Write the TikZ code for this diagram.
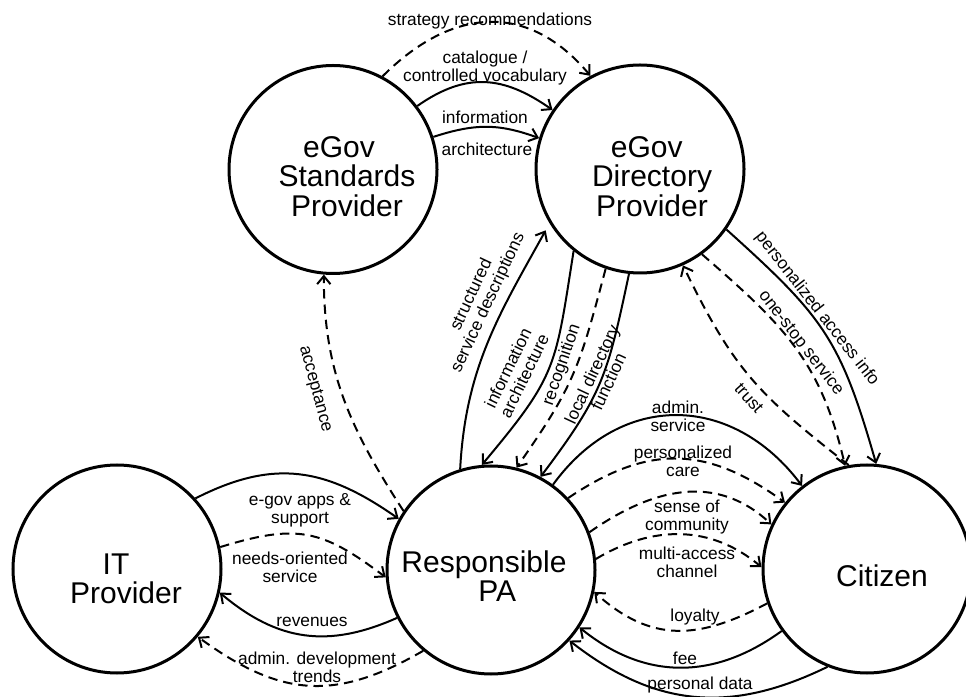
\documentclass[tikz,border=0pt]{standalone}
\usepackage{fontspec}
\setmainfont{Liberation Sans}
\usetikzlibrary{arrows.meta}
\begin{document}
\begin{tikzpicture}[x=0.75pt,y=0.75pt,
  circ/.style={circle,draw,line width=2.25pt,minimum size=156pt,inner sep=0pt},
  ntext/.style={font=\fontsize{22.5}{22}\selectfont,align=center,inner sep=0pt},
  lbl/.style={font=\fontsize{13}{13.7}\selectfont,align=center,inner sep=0pt},
  conn/.style={line width=1.5pt,-{Straight Barb[length=6pt,width=10pt]}},
  dsh/.style={conn,dash pattern=on 7pt off 4.5pt}]
\useasboundingbox (0,0) rectangle (966,696);
% circles
\node[circ] (S) at (333,526.5) {};
\node[circ] (D) at (640,527) {};
\node[circ] (IT) at (117,127) {};
\node[circ] (R) at (491,126) {};
\node[circ] (C) at (867,127) {};
% circle texts
\node[ntext] (St) at (347,519.5) {\hspace*{-12pt}eGov\\Standards\\Provider};
\node[ntext] (Dt) at (652,519.5) {\hspace*{-8pt}eGov\\Directory\\Provider};
\node[ntext] (ITt) at (126,117) {\hspace*{-15pt}IT\\Provider};
\node[ntext] (Rt) at (484,120) {Responsible\\\hspace*{20pt}PA};
\node[ntext] (Ct) at (882,120) {Citizen};
% connectors S - D
\draw[dsh] (S.62) to[out=45,in=130,looseness=1.2] (D.118);
\draw[conn] (S.37) to[out=35,in=145,looseness=1.13] (D.146);
\draw[conn] (S.18) to[out=18,in=160,looseness=1.05] (D.163);
% R - S
\draw[dsh] (R.146) to[out=123,in=270] (S.265);
% R - D
\draw[conn,shorten >=6pt] (R.107) to[out=87,in=241] (D.211);
\draw[conn] (D.231) to[out=261,in=50,looseness=1.3] (R.95);
\draw[dsh] (D.251) to[out=255,in=55,looseness=1.2] (R.76);
\draw[conn] (D.264) to[out=258,in=53,looseness=1.2] (R.62);
% D - C
\draw[conn] (D.325) to[out=-42,in=106,looseness=1.2] (C.85);
\draw[dsh] (D.306) to[out=-41,in=103,looseness=1.08] (C.102);
\draw[dsh] (C.100) to[out=142,in=-64,looseness=1.14] (D.294);
% R - C
\draw[conn] (R.54) to[out=54,in=127,looseness=1.19] (C.128);
\draw[dsh] (R.43) to[out=34,in=144,looseness=1.14] (C.141);
\draw[dsh] (R.21) to[out=35,in=137,looseness=1.07] (C.155);
\draw[dsh] (R.6) to[out=31,in=140,looseness=1.02] (C.179);
\draw[dsh] (C.199) to[out=208,in=318,looseness=1.14] (R.348);
\draw[conn] (C.216) to[out=216,in=321,looseness=1.06] (R.327);
\draw[conn] (C.248) to[out=206,in=322,looseness=1.07] (R.318);
% IT - R
\draw[conn] (IT.42) to[out=27,in=145,looseness=1.11] (R.151);
\draw[dsh] (IT.12) to[out=17,in=143,looseness=1.22] (R.184);
\draw[conn] (R.207) to[out=204,in=320,looseness=1.08] (IT.347);
\draw[dsh] (R.230) to[out=210,in=324,looseness=1.16] (IT.320);
% labels
\node[lbl] (l1) at (490,675) {strategy recommendations};
\node[lbl] (l2) at (485,628) {catalogue /\\controlled vocabulary};
\node[lbl] (l3a) at (485,579) {information};
\node[lbl] (l3b) at (487,547) {architecture};
\node[lbl,rotate=-75] (l4) at (315,307) {acceptance};
\node[lbl,rotate=65] (l5) at (480,397) {structured\\service descriptions};
\node[lbl,rotate=64] (l6) at (516,324) {information\\architecture};
\node[lbl,rotate=71] (l7) at (562,331) {recognition};
\node[lbl,rotate=65] (l8) at (600,318) {local directory\\function};
\node[lbl,rotate=-52] (l9) at (817,387) {personalized access info};
\node[lbl,rotate=-52] (l10) at (801,353) {one-stop service};
\node[lbl,rotate=-48] (l11) at (749,298) {trust};
\node[lbl] (l12) at (678,280) {admin.\\service};
\node[lbl] (l13) at (683,235) {personalized\\care};
\node[lbl] (l14) at (687,179) {sense of\\community};
\node[lbl] (l15) at (687,134) {multi-access\\channel};
\node[lbl] (l16) at (695,79) {loyalty};
\node[lbl] (l17) at (685,38) {fee};
\node[lbl] (l18) at (700,11) {personal data};
\node[lbl] (l19) at (300,186) {e-gov apps \&\\support};
\node[lbl] (l20) at (290,129) {needs-oriented\\service};
\node[lbl] (l21) at (312,74) {revenues};
\node[lbl] (l22) at (317,29) {admin. development\\trends};
\end{tikzpicture}
\end{document}
